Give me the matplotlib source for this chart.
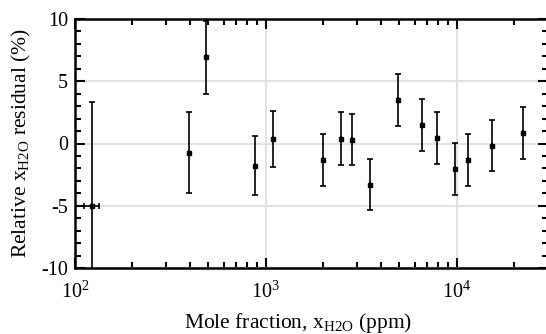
import numpy as np
import matplotlib
matplotlib.use('Agg')
import matplotlib.pyplot as plt
from matplotlib.ticker import LogLocator, MultipleLocator, NullFormatter

plt.rcParams['font.family'] = ['Liberation Serif', 'DejaVu Serif']
plt.rcParams['mathtext.fontset'] = 'custom'
plt.rcParams['mathtext.rm'] = 'Liberation Serif'
plt.rcParams['mathtext.it'] = 'Liberation Serif:italic'
plt.rcParams['axes.unicode_minus'] = False

# Мольная доля (ppm) и относительная невязка (%)
x_ppm = [123, 394, 487, 873, 1091, 1995, 2481, 2822, 3505, 4901,
         6547, 7823, 9766, 11460, 15310, 22120]
resid = [-5.0, -0.74, 6.92, -1.78, 0.39, -1.3, 0.39, 0.31, -3.31, 3.52,
         1.49, 0.47, -2.05, -1.3, -0.17, 0.87]
resid_err = [8.36, 3.27, 2.92, 2.35, 2.26, 2.1, 2.1, 2.06, 2.07, 2.1,
             2.08, 2.1, 2.07, 2.1, 2.05, 2.08]
x_err = [11, 0, 0, 0, 0, 0, 0, 0, 0, 0, 0, 0, 0, 0, 0, 0]

fig = plt.figure(figsize=(5.46, 3.34), dpi=100)
ax = fig.add_axes([75 / 546, 66 / 334, 473 / 546, 249 / 334])

ax.errorbar(x_ppm, resid, yerr=resid_err, xerr=x_err, fmt='s', color='black',
            ms=3.4, elinewidth=1.2, capsize=2.5, capthick=1.2, zorder=3)

ax.set_xscale('log')
ax.set_xlim(100, 3e4)
ax.set_ylim(-10, 10)

ax.xaxis.set_major_locator(LogLocator(base=10, numticks=10))
ax.xaxis.set_minor_locator(LogLocator(base=10, subs=np.arange(2, 10), numticks=20))
ax.xaxis.set_minor_formatter(NullFormatter())
ax.yaxis.set_major_locator(MultipleLocator(5))
ax.yaxis.set_minor_locator(MultipleLocator(1))

ax.grid(True, which='major', color='#e2e2e2', lw=1.5, zorder=0)
ax.set_axisbelow(True)

ax.tick_params(which='both', direction='in', top=True, right=True,
               width=1.5, labelsize=14.5)
ax.tick_params(axis='y', pad=5)
ax.tick_params(axis='x', pad=10)
ax.tick_params(which='major', length=7.5)
ax.tick_params(which='minor', length=4.5)
for s in ax.spines.values():
    s.set_linewidth(1.8)

ax.set_xlabel(r'Mole fraction, x$_{\mathrm{H2O}}$ (ppm)', fontsize=15.5)
ax.xaxis.set_label_coords(0.471, -0.172)
ax.set_ylabel(r'Relative x$_{\mathrm{H2O}}$ residual (%)', fontsize=15.5, labelpad=6)

fig.savefig('out.png', dpi=100)
